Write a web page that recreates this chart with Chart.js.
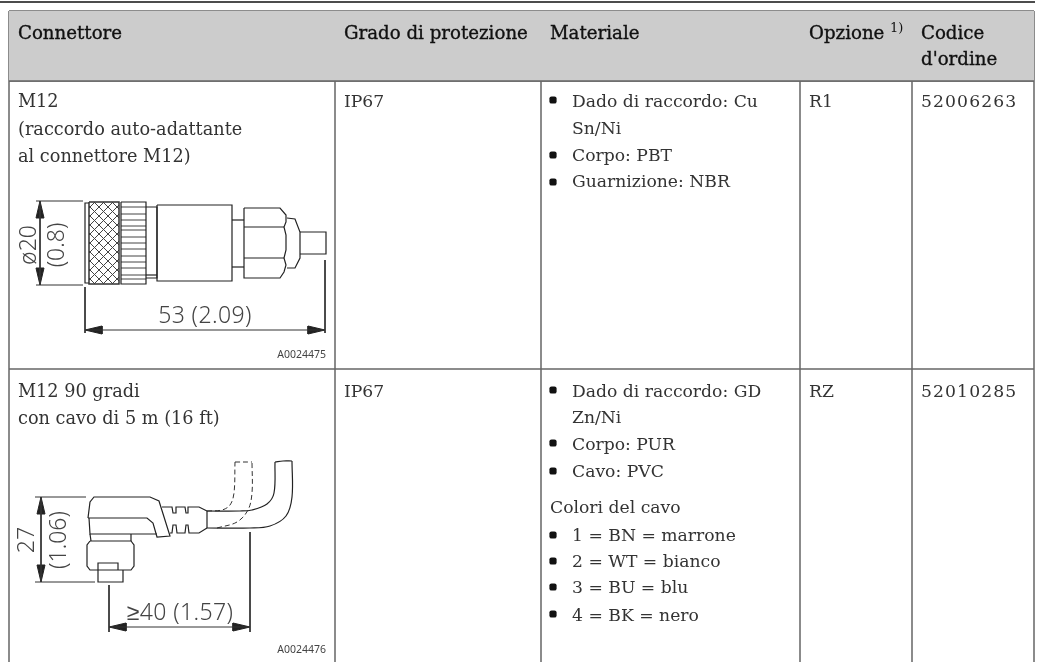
<!DOCTYPE html>
<html>
<head>
<meta charset="utf-8">
<style>html,body{margin:0;padding:0;background:#fff}canvas{display:block}</style>
<script src="https://cdn.jsdelivr.net/npm/chart.js@4"></script>
</head>
<body>
<canvas id="chart" width="1043" height="662"></canvas>
<script>
// table content
const headers = ['Connettore', 'Grado di protezione', 'Materiale', 'Opzione', 'Codice', "d'ordine"];
const footnote = '1)';
const connector1 = ['M12', '(raccordo auto-adattante', 'al connettore M12)'];
const connector2 = ['M12 90 gradi', 'con cavo di 5 m (16 ft)'];
const protection = ['IP67', 'IP67'];
const material1 = ['Dado di raccordo: Cu', 'Sn/Ni', 'Corpo: PBT', 'Guarnizione: NBR'];
const material2 = ['Dado di raccordo: GD', 'Zn/Ni', 'Corpo: PUR', 'Cavo: PVC'];
const cableTitle = 'Colori del cavo';
const cableColors = ['1 = BN = marrone', '2 = WT = bianco', '3 = BU = blu', '4 = BK = nero'];
const options_ = ['R1', 'RZ'];
const orderCodes = ['52006263', '52010285'];

// table grid
const columnEdges = [9, 335, 541, 800, 912, 1034];
const rowEdges = [11, 81, 369, 662];

// drawing 1, straight connector
const d1Dim = [[[36, 201], [83, 201]], [[36, 285], [83, 285]], [[40, 201], [40, 285]],
  [[85, 287], [85, 333]], [[325, 260], [325, 333]], [[85, 330], [325, 330]]];
const d1Arrows = [[[40, 201], [36, 218], [44, 218], [40, 201]], [[40, 285], [36, 268], [44, 268], [40, 285]],
  [[85, 330], [102, 326], [102, 334], [85, 330]], [[325, 330], [308, 326], [308, 334], [325, 330]]];
const d1Knurl = [[89, 202], [119, 202], [119, 284], [89, 284], [89, 202]];
const d1Body = [
  [[89, 203], [85, 203], [85, 283], [89, 283]],
  [[121, 202], [146, 202], [146, 284], [121, 284], [121, 202]],
  [[146, 207], [157, 207], [157, 278], [146, 278]],
  [[146, 275], [157, 275]],
  [[157, 205], [232, 205], [232, 281], [157, 281], [157, 205]],
  [[232, 220], [244, 220]], [[232, 267], [244, 267]],
  [[244, 208], [280, 208], [286, 215], [286, 222], [284, 227], [286, 235], [286, 250], [284, 258], [286, 265], [284, 272], [280, 278], [244, 278], [244, 208]],
  [[244, 227], [284, 227]], [[244, 258], [284, 258]],
  [[287, 218], [295, 219], [300, 232], [300, 258], [295, 268], [287, 268]],
  [[300, 232], [326, 232], [326, 254], [300, 254]]
];
const d1Ribs = [207, 214, 220, 226, 230, 237, 243, 249, 256, 262, 268, 275, 279];

// drawing 2, 90 degree connector
const d2Dim = [[[35, 497], [86, 497]], [[35, 582], [95, 582]], [[41, 497], [41, 582]],
  [[109, 585], [109, 632]], [[250, 532], [250, 632]], [[109, 627], [250, 627]]];
const d2Arrows = [[[41, 497], [37, 514], [45, 514], [41, 497]], [[41, 582], [37, 565], [45, 565], [41, 582]],
  [[109, 627], [126, 623], [126, 631], [109, 627]], [[250, 627], [233, 623], [233, 631], [250, 627]]];
const d2Body = [
  [[88, 518], [90, 502], [94, 497], [150, 497], [159, 501], [170, 536], [157, 537], [153, 523], [147, 518], [88, 518]],
  [[89, 518], [90, 534], [157, 534]],
  [[90, 534], [91, 541]], [[131, 534], [131, 541]],
  [[90, 541], [131, 541], [134, 545], [134, 566], [131, 570], [90, 570], [87, 566], [87, 545], [90, 541]],
  [[98, 570], [98, 563], [118, 563], [118, 570]],
  [[98, 570], [98, 582], [123, 582], [123, 570]],
  [[162, 507], [172, 507], [173, 513], [176, 513], [176, 507], [185, 507], [186, 513], [188, 513], [188, 507], [199, 507], [207, 511]],
  [[170, 533], [172, 533], [173, 525], [176, 525], [177, 533], [185, 533], [186, 525], [188, 525], [189, 533], [199, 533], [207, 528]],
  [[207, 511], [207, 528]]
];
const d2Cable = [
  [[207, 511], [240, 511], [252, 510], [267, 504], [274, 493], [275, 462]],
  [[207, 528], [250, 528], [270, 526], [286, 516], [292, 497], [292, 461]],
  [[275, 462], [283, 461], [292, 461]]
];
const d2CableDashed = [
  [[207, 511], [222, 510], [230, 505], [234, 493], [235, 462]],
  [[217, 528], [237, 522], [248, 510], [252, 493], [252, 462]],
  [[235, 462], [252, 462]]
];

// bullets of the material lists
const bullets = [[553, 100], [553, 155], [553, 182], [553, 390], [553, 443], [553, 471], [553, 535], [553, 561], [553, 587], [553, 614]];

const HEAD_FONT = '18.2px "DejaVu Serif", serif';
const CELL_FONT = '17.2px "DejaVu Serif", serif';
const FIRST_COL_FONT = '17.7px "DejaVu Serif", serif';
const DIM_FONT = '300 23px "Noto Sans", sans-serif';
const TAG_FONT = '10.5px "Noto Sans", sans-serif';
const columnText = [18, 344, 550, 809, 921];
const materialText = 572;

function toXY(points) {
  return points.map(function (p) { return { x: p[0], y: p[1] }; });
}
function line(points, color, width, extra) {
  return Object.assign({
    data: toXY(points), showLine: true, borderColor: color, borderWidth: width,
    pointRadius: 0, clip: false, fill: false, tension: 0
  }, extra || {});
}
function shape(points, color) {
  return line(points, color, 1, { fill: 'shape', backgroundColor: color });
}

const tile = document.createElement('canvas');
tile.width = tile.height = 9;
const t = tile.getContext('2d');
t.fillStyle = '#fff';
t.fillRect(0, 0, 9, 9);
t.strokeStyle = '#444';
t.lineWidth = 1;
t.beginPath();
t.moveTo(0, 0); t.lineTo(9, 9);
t.moveTo(9, 0); t.lineTo(0, 9);
t.stroke();
const knurl = document.getElementById('chart').getContext('2d').createPattern(tile, 'repeat');

const GRID = '#666';
const INK = '#444';
const datasets = [];

// header background
datasets.push(line([[columnEdges[0], rowEdges[1]], [columnEdges[5], rowEdges[1]]], GRID, 1.5, { fill: { value: rowEdges[0] }, backgroundColor: '#cccccc' }));
// top rule
datasets.push(line([[0, 2], [1035, 2]], '#111', 1.5));
// grid
rowEdges.slice(0, 3).forEach(function (y) {
  datasets.push(line([[columnEdges[0], y], [columnEdges[5], y]], GRID, 1.5));
});
columnEdges.forEach(function (x) {
  datasets.push(line([[x, rowEdges[0]], [x, rowEdges[3]]], GRID, 1.5));
});

d1Dim.concat(d2Dim).forEach(function (p) { datasets.push(line(p, '#333', 1)); });
d1Arrows.concat(d2Arrows).forEach(function (p) { datasets.push(shape(p, '#222')); });
datasets.push(line(d1Knurl, '#333', 1.5, { fill: 'shape', backgroundColor: knurl }));
d1Body.concat(d2Body).forEach(function (p) { datasets.push(line(p, '#222', 1.2)); });
d1Ribs.forEach(function (y) { datasets.push(line([[121, y], [146, y]], '#444', 1)); });
d2Cable.forEach(function (p) { datasets.push(line(p, '#222', 1.2, { tension: 0.35 })); });
d2CableDashed.forEach(function (p) { datasets.push(line(p, '#333', 1, { tension: 0.35, borderDash: [5, 3] })); });
datasets.push({
  data: toXY(bullets), pointStyle: 'rectRounded', pointRadius: 4.2, borderWidth: 0,
  backgroundColor: '#111', showLine: false, clip: false
});

const tablePlugin = {
  id: 'tableText',
  afterDatasetsDraw: function (chart) {
    const c = chart.ctx, sx = chart.scales.x, sy = chart.scales.y;
    function put(text, x, y, font, color, align, rot, spacing) {
      c.save();
      c.translate(sx.getPixelForValue(x), sy.getPixelForValue(y));
      if (rot) c.rotate(rot);
      c.font = font;
      c.fillStyle = color;
      c.textAlign = align || 'left';
      c.textBaseline = rot ? 'middle' : 'alphabetic';
      if (spacing) c.letterSpacing = spacing;
      c.fillText(text, 0, 0);
      if (font === HEAD_FONT) {
        // header is a bit heavier than the regular weight
        c.strokeStyle = color;
        c.lineWidth = 0.35;
        c.strokeText(text, 0, 0);
      }
      c.restore();
    }
    const HEAD = '#111';
    const BODY = '#333';
    put(headers[0], columnText[0], 39, HEAD_FONT, HEAD);
    put(headers[1], columnText[1], 39, HEAD_FONT, HEAD);
    put(headers[2], columnText[2], 39, HEAD_FONT, HEAD);
    put(headers[3], columnText[3], 39, HEAD_FONT, HEAD);
    put(footnote, 890, 32, '13px "DejaVu Serif", serif', HEAD);
    put(headers[4], columnText[4], 39, HEAD_FONT, HEAD);
    put(headers[5], columnText[4], 65, HEAD_FONT, HEAD);

    connector1.forEach(function (s, i) { put(s, columnText[0], 107 + i * 27.5, FIRST_COL_FONT, BODY); });
    connector2.forEach(function (s, i) { put(s, columnText[0], 397 + i * 26.5, FIRST_COL_FONT, BODY); });
    put(protection[0], columnText[1], 107, CELL_FONT, BODY);
    put(protection[1], columnText[1], 397, CELL_FONT, BODY);
    [107, 134, 161, 187].forEach(function (y, i) { put(material1[i], materialText, y, CELL_FONT, BODY); });
    [397, 423, 450, 477].forEach(function (y, i) { put(material2[i], materialText, y, CELL_FONT, BODY); });
    put(cableTitle, columnText[2], 513, CELL_FONT, BODY);
    [541, 567, 593, 621].forEach(function (y, i) { put(cableColors[i], materialText, y, CELL_FONT, BODY); });
    put(options_[0], columnText[3], 107, CELL_FONT, BODY);
    put(options_[1], columnText[3], 397, CELL_FONT, BODY);
    put(orderCodes[0], columnText[4], 107, CELL_FONT, BODY, 'left', 0, '1.1px');
    put(orderCodes[1], columnText[4], 397, CELL_FONT, BODY, 'left', 0, '1.1px');

    put('ø20', 29, 245, DIM_FONT, INK, 'center', -Math.PI / 2);
    put('(0.8)', 57, 245, DIM_FONT, INK, 'center', -Math.PI / 2);
    put('53 (2.09)', 205, 323, DIM_FONT, INK, 'center', 0, '0.4px');
    put('A0024475', 326, 358, TAG_FONT, '#444', 'right');
    put('27', 27, 540, DIM_FONT, INK, 'center', -Math.PI / 2);
    put('(1.06)', 59, 540, DIM_FONT, INK, 'center', -Math.PI / 2);
    put('≥40 (1.57)', 180, 620, DIM_FONT, INK, 'center', 0, '0.4px');
    put('A0024476', 326, 653, TAG_FONT, '#444', 'right');
  }
};

const chart = new Chart(document.getElementById('chart'), {
  type: 'scatter',
  data: { datasets: datasets },
  plugins: [tablePlugin],
  options: {
    responsive: false,
    animation: false,
    layout: { padding: 0, autoPadding: false },
    plugins: { legend: { display: false }, tooltip: { enabled: false } },
    scales: {
      x: { type: 'linear', min: 0, max: 1043, display: false },
      y: { type: 'linear', min: 0, max: 662, reverse: true, display: false }
    }
  }
});
</script>
</body>
</html>
